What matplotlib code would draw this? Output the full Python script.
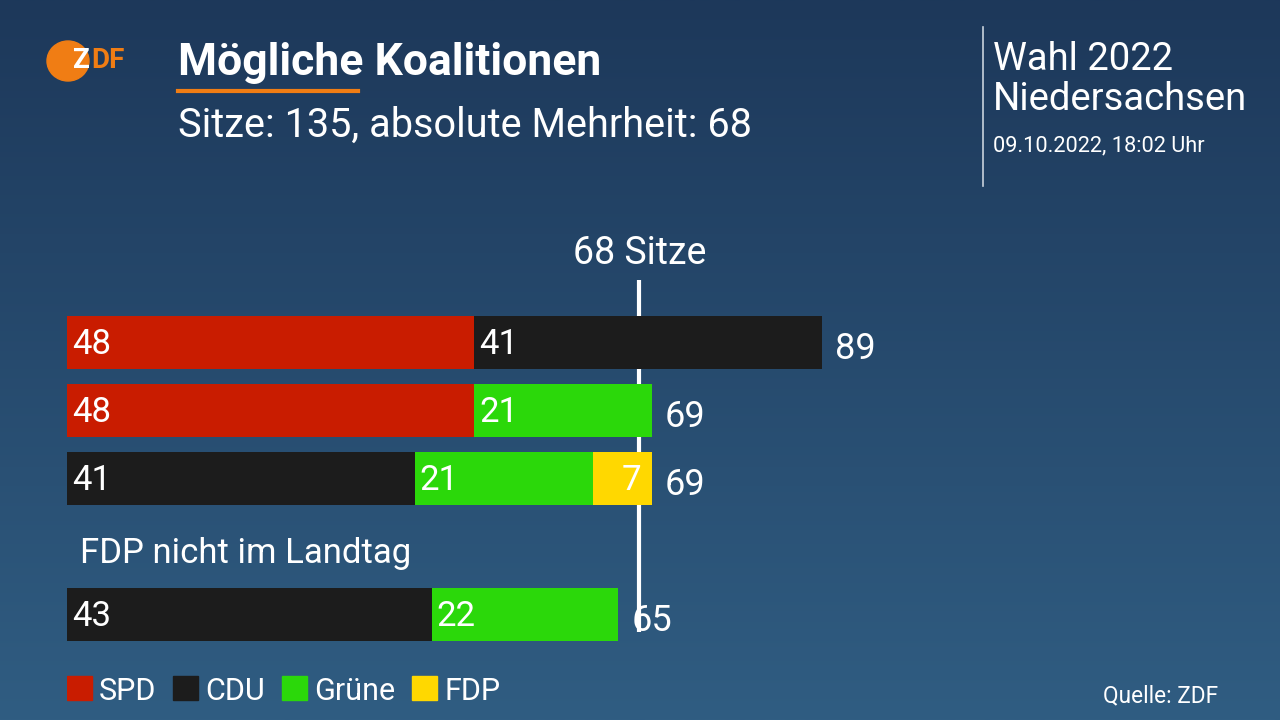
import numpy as np
import matplotlib.pyplot as plt
from matplotlib.patches import Ellipse

plt.rcParams["font.family"] = ["Roboto", "DejaVu Sans"]

# data
parties = ["SPD", "CDU", "Grüne", "FDP"]
party_colors = {"SPD": "#c91c00", "CDU": "#1c1c1c", "Grüne": "#2bd80a", "FDP": "#ffd800"}
coalitions = [
    [("SPD", 48), ("CDU", 41)],
    [("SPD", 48), ("Grüne", 21)],
    [("CDU", 41), ("Grüne", 21), ("FDP", 7)],
    [("CDU", 43), ("Grüne", 22)],
]
row_slots = [0, 1, 2, 4]  # slot 3 holds the note
majority = 68
total_seats = 135

W, H = 1280, 720
fig = plt.figure(figsize=(W / 100, H / 100), dpi=100)

# background gradient
bg = fig.add_axes([0, 0, 1, 1])
bg.set_axis_off()
top = np.array([0x1d, 0x38, 0x5a]) / 255
bot = np.array([0x30, 0x5d, 0x82]) / 255
t = np.linspace(0, 1, 256)[:, None]
grad = (top[None, :] * (1 - t) + bot[None, :] * t)[:, None, :]
bg.imshow(grad, aspect="auto", extent=[0, 1, 0, 1], zorder=0)
bg.set_xlim(0, 1)
bg.set_ylim(0, 1)

# chart axes: x in seats, y in pixel rows (top-down)
px_per_seat = (474 - 67) / 48
x0 = 67
ax = fig.add_axes([x0 / W, 0, 1 - x0 / W, 1])
ax.set_xlim(0, (W - x0) / px_per_seat)
ax.set_ylim(H, 0)
ax.set_axis_off()
ax.patch.set_alpha(0)

row_top = 342
row_pitch = 68
bar_h = 53
pad = 5 / px_per_seat
lbl_size = 25
dy = 3  # matplotlib centres on the full glyph box, nudge down

def row_y(slot):
    return row_top + slot * row_pitch

# majority line (drawn at the middle of the 68th seat)
line_x = majority - 0.5
ax.plot([line_x, line_x], [280, 632], color="white", lw=3, zorder=1, solid_capstyle="butt")
ax.text(line_x, 250 + dy, f"{majority} Sitze", color="white", fontsize=27, ha="center", va="center")

for slot, parts in zip(row_slots, coalitions):
    y = row_y(slot)
    left = 0
    for party, val in parts:
        ax.barh(y, val, left=left, height=bar_h, color=party_colors[party], zorder=2)
        if val < 10:
            ax.text(left + val - 11 / px_per_seat, y + dy, str(val), color="white", fontsize=lbl_size,
                    ha="right", va="center", zorder=3)
        else:
            ax.text(left + pad, y + dy, str(val), color="white", fontsize=lbl_size,
                    ha="left", va="center", zorder=3)
        left += val
    ax.text(left + 13 / px_per_seat, y + 4 + dy, str(left), color="white", fontsize=26,
            ha="left", va="center", zorder=3)

ax.text(13 / px_per_seat, row_y(3) + 4 + dy, "FDP nicht im Landtag", color="white", fontsize=25,
        ha="left", va="center")

# legend
lx = 0
for party in parties:
    ax.add_patch(plt.Rectangle((lx, 676), 25 / px_per_seat, 24, color=party_colors[party], zorder=2))
    txt = ax.text(lx + 32 / px_per_seat, 688 + dy, party, color="white", fontsize=22, ha="left", va="center")
    fig.canvas.draw()
    end_px = txt.get_window_extent().x1
    lx = (end_px - x0) / px_per_seat + 17 / px_per_seat

# header
def fx(px):
    return px / W

def fy(px):
    return 1 - (px + dy) / H

logo = Ellipse((fx(68), 1 - 61 / H), 42 / W, 40 / H, transform=fig.transFigure, color="#f07d14")
fig.patches.append(logo)
fig.text(fx(73), fy(58), "Z", color="white", fontsize=20, fontweight="bold", ha="left", va="center")
fig.text(fx(91), fy(58), "DF", color="#f07d14", fontsize=20, fontweight="bold", ha="left", va="center")

fig.text(fx(178), fy(60), "Mögliche Koalitionen", color="white", fontsize=32, fontweight="bold",
         ha="left", va="center")
fig.add_artist(plt.Line2D([fx(178), fx(358)], [1 - 91 / H, 1 - 91 / H], color="#f07d14", lw=3,
                          transform=fig.transFigure))
fig.text(fx(178), fy(122), f"Sitze: {total_seats}, absolute Mehrheit: {majority}", color="white",
         fontsize=28.5, ha="left", va="center")

fig.add_artist(plt.Line2D([fx(983), fx(983)], [1 - 27 / H, 1 - 186 / H], color="#c8d2dc", lw=1.2,
                          transform=fig.transFigure))
fig.text(fx(993), fy(56), "Wahl 2022", color="white", fontsize=27.5, ha="left", va="center")
fig.text(fx(993), fy(97), "Niedersachsen", color="white", fontsize=27.5, ha="left", va="center")
fig.text(fx(993), fy(143), "09.10.2022, 18:02 Uhr", color="white", fontsize=15.7, ha="left", va="center")

fig.text(fx(1218), fy(693), "Quelle: ZDF", color="white", fontsize=16.3, ha="right", va="center")

fig.savefig("out.png", dpi=100)
